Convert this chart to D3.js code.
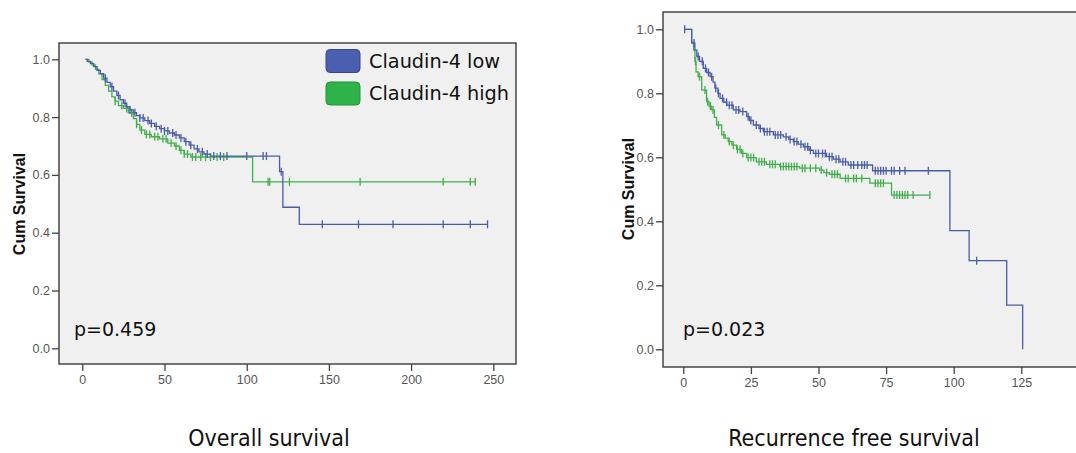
<!DOCTYPE html>
<html>
<head>
<meta charset="utf-8">
<script src="https://cdn.jsdelivr.net/npm/d3@7"></script>
<style>
  body { margin: 0; background: #fff; }
  svg { display: block; }
</style>
</head>
<body>
<div id="chart"></div>
<script>
// ---- data ----
const groups = ["Claudin-4 low", "Claudin-4 high"];

// Overall survival: step times (months) and survival after each step
const osLowTimes = [2, 3, 5, 7, 9, 11, 13, 15, 17, 19, 21, 23, 25, 27, 29, 31, 33, 35, 38, 41, 44, 47, 50, 53, 56, 59, 62, 65, 68, 71, 74, 78, 120, 122, 132];
const osLowSurv  = [1.0, 0.993, 0.985, 0.975, 0.962, 0.95, 0.935, 0.92, 0.905, 0.89, 0.875, 0.86, 0.848, 0.835, 0.825, 0.815, 0.805, 0.797, 0.788, 0.778, 0.768, 0.76, 0.752, 0.745, 0.738, 0.728, 0.715, 0.703, 0.69, 0.68, 0.672, 0.665, 0.611, 0.488, 0.429];
const osLowCensor = [14, 18, 22, 26, 29, 32, 35, 37, 40, 42, 45, 48, 50, 52, 55, 57, 60, 63, 66, 70, 73, 76, 80, 84, 88, 100, 110, 112, 121, 146, 168, 189, 219.5, 236, 246.5];

const osHighTimes = [2, 4, 6, 8, 10, 12, 14, 16, 18, 20, 22, 25, 28, 31, 33, 35, 38, 42, 47, 52, 56, 59, 62, 66, 103.6];
const osHighSurv  = [1.0, 0.99, 0.98, 0.965, 0.95, 0.93, 0.91, 0.89, 0.87, 0.855, 0.84, 0.83, 0.815, 0.795, 0.775, 0.755, 0.74, 0.732, 0.725, 0.71, 0.7, 0.685, 0.672, 0.662, 0.576];
const osHighCensor = [20, 24, 27, 30, 33, 36, 39, 41, 44, 46, 49, 51, 54, 57, 60, 62, 64, 67, 69, 72, 75, 78, 82, 86, 113, 114, 126, 169, 219.5, 236, 239];

// Recurrence free survival
const rfsLowTimes = [0.5, 3.1, 4.3, 5.0, 6.0, 7.4, 8.6, 9.9, 11, 11.7, 12.8, 13.6, 15, 16.1, 18.5, 21, 23.4, 24.5, 25.9, 28, 29.6, 33.3, 37, 39, 40.7, 42.5, 44.4, 46.5, 48.1, 53, 55.5, 58, 61, 70, 98.6, 105.7, 119.6, 125.5];
const rfsLowSurv  = [1.0, 0.957, 0.935, 0.915, 0.9, 0.878, 0.865, 0.852, 0.835, 0.816, 0.8, 0.784, 0.772, 0.763, 0.748, 0.743, 0.727, 0.715, 0.701, 0.69, 0.68, 0.67, 0.664, 0.656, 0.649, 0.641, 0.633, 0.622, 0.612, 0.602, 0.594, 0.586, 0.576, 0.558, 0.371, 0.277, 0.138, 0.0];
const rfsLowCensor = [0.5, 4, 5.5, 7, 8.2, 9.3, 10.5, 12, 13, 14.5, 16, 17, 18, 19.5, 20.5, 22, 24, 25, 27, 28.5, 30, 31, 32, 34, 35, 36, 38, 39.5, 41, 42, 43.5, 45, 46, 47, 49, 50, 51.5, 52.5, 54, 55, 56.5, 57.5, 59, 60, 62, 63, 64.5, 66, 67, 68, 71, 72, 73, 74, 75, 77, 78, 80, 82, 90.6, 108.5];

const rfsHighTimes = [0.5, 3.1, 3.8, 4.3, 4.7, 5.5, 6.8, 8.6, 9.5, 10.5, 11.5, 12.3, 14.2, 15.5, 16.6, 18, 19.7, 21.5, 23.4, 27, 30.7, 35.7, 43, 50.4, 52, 54, 58, 69, 77];
const rfsHighSurv  = [1.0, 0.96, 0.935, 0.9, 0.867, 0.852, 0.81, 0.774, 0.76, 0.748, 0.725, 0.701, 0.67, 0.66, 0.649, 0.638, 0.625, 0.612, 0.599, 0.586, 0.578, 0.571, 0.566, 0.56, 0.552, 0.547, 0.534, 0.519, 0.482];
const rfsHighCensor = [4.5, 6, 8, 9, 10, 11, 13, 15, 17, 18.5, 20, 21, 22, 24, 25, 26, 28, 29, 30, 32, 33, 34, 36, 37, 38, 39, 40, 41, 42, 44, 45, 47, 49, 51, 53, 55, 56, 57, 60, 61, 63, 64, 66, 71, 72, 73, 74, 78, 79, 80, 81, 82, 83, 85, 91.2];

const yTicks = [0, 0.2, 0.4, 0.6, 0.8, 1.0];
const osXTicks = [0, 50, 100, 150, 200, 250];
const rfsXTicks = [0, 25, 50, 75, 100, 125];

const colorLow = "#4a5ca8";
const colorHigh = "#3fb04a";

const svg = d3.select("#chart")
  .append("svg")
  .attr("width", 1076)
  .attr("height", 453);

class KMChart {
  constructor(_cfg) {
    this.cfg = _cfg;
    this.initVis();
  }

  initVis() {
    const vis = this;
    const c = vis.cfg;

    vis.g = svg.append("g");

    vis.x = d3.scaleLinear().domain(c.xDomain).range(c.xRange);
    vis.y = d3.scaleLinear().domain([0, 1]).range(c.yRange);

    // plot panel
    vis.g.append("rect")
      .attr("x", c.frame.left)
      .attr("y", c.frame.top)
      .attr("width", c.frame.right - c.frame.left)
      .attr("height", c.frame.bottom - c.frame.top)
      .attr("fill", "#f0f0f0")
      .attr("stroke", "#3a3a3a")
      .attr("stroke-width", 1.4);

    const yAxis = d3.axisLeft(vis.y)
      .tickValues(yTicks)
      .tickFormat(d3.format(".1f"))
      .tickSize(7)
      .tickPadding(2);

    vis.g.append("g")
      .attr("transform", `translate(${c.frame.left}, 0)`)
      .call(yAxis)
      .call((g) => g.select(".domain").remove());

    const xAxis = d3.axisBottom(vis.x)
      .tickValues(c.xTicks)
      .tickFormat(d3.format("d"))
      .tickSize(7)
      .tickPadding(4);

    vis.g.append("g")
      .attr("transform", `translate(0, ${c.frame.bottom})`)
      .call(xAxis)
      .call((g) => g.select(".domain").remove());

    vis.g.selectAll(".tick text")
      .attr("font-family", "'Liberation Sans', Arial, sans-serif")
      .attr("font-size", "12.5px")
      .attr("fill", "#555");
    vis.g.selectAll(".tick line")
      .attr("stroke", "#444")
      .attr("stroke-width", 1.3);

    // y title
    vis.g.append("text")
      .attr("transform", `translate(${c.yTitleX}, ${c.yTitleY}) rotate(-90)`)
      .attr("text-anchor", "middle")
      .attr("font-family", "'Liberation Sans', Arial, sans-serif")
      .attr("font-weight", "bold")
      .attr("font-size", "16px")
      .attr("fill", "#111")
      .text("Cum Survival");

    // p value
    vis.g.append("text")
      .attr("x", c.pX)
      .attr("y", c.pY)
      .attr("font-family", "'DejaVu Sans', Verdana, sans-serif")
      .attr("font-size", "19px")
      .attr("fill", "#111")
      .text(c.pText);

    // caption
    vis.g.append("text")
      .attr("x", c.titleX)
      .attr("y", 446)
      .attr("text-anchor", "middle")
      .attr("font-family", "'DejaVu Sans Condensed', 'DejaVu Sans', sans-serif")
      .attr("font-stretch", "condensed")
      .attr("font-size", "23px")
      .attr("fill", "#111")
      .text(c.title);

    vis.updateVis();
  }

  updateVis() {
    const vis = this;

    const line = d3.line()
      .x((d) => vis.x(d[0]))
      .y((d) => vis.y(d[1]))
      .curve(d3.curveStepAfter);

    vis.cfg.series.forEach((s) => {
      const pts = s.times.map((t, i) => [t, s.surv[i]]);
      const lastT = Math.max(s.times[s.times.length - 1], d3.max(s.censor));
      pts.push([lastT, s.surv[s.surv.length - 1]]);

      vis.g.append("path")
        .datum(pts)
        .attr("fill", "none")
        .attr("stroke", s.color)
        .attr("stroke-width", 1.3)
        .attr("d", line);

      const survAt = (t) => {
        const i = d3.bisectRight(s.times, t) - 1;
        return s.surv[Math.max(0, i)];
      };

      vis.g.selectAll(null)
        .data(s.censor)
        .enter()
        .append("line")
        .attr("x1", (d) => vis.x(d))
        .attr("x2", (d) => vis.x(d))
        .attr("y1", (d) => vis.y(survAt(d)) - 4)
        .attr("y2", (d) => vis.y(survAt(d)) + 4)
        .attr("stroke", s.color)
        .attr("stroke-width", 1.3);
    });
  }
}

new KMChart({
  xDomain: [0, 250],
  xRange: [82.3, 493.3],
  yRange: [348.3, 59.3],
  frame: { left: 59, top: 43, right: 516, bottom: 364 },
  xTicks: osXTicks,
  yTitleX: 25,
  yTitleY: 204,
  pX: 74,
  pY: 336,
  pText: "p=0.459",
  title: "Overall survival",
  titleX: 269,
  series: [
    { times: osHighTimes, surv: osHighSurv, censor: osHighCensor, color: colorHigh },
    { times: osLowTimes, surv: osLowSurv, censor: osLowCensor, color: colorLow }
  ]
});

new KMChart({
  xDomain: [0, 125],
  xRange: [683.3, 1021.3],
  yRange: [349.3, 29.3],
  frame: { left: 663, top: 12, right: 1082, bottom: 367 },
  xTicks: rfsXTicks,
  yTitleX: 634,
  yTitleY: 189,
  pX: 683,
  pY: 336,
  pText: "p=0.023",
  title: "Recurrence free survival",
  titleX: 854,
  series: [
    { times: rfsHighTimes, surv: rfsHighSurv, censor: rfsHighCensor, color: colorHigh },
    { times: rfsLowTimes, surv: rfsLowSurv, censor: rfsLowCensor, color: colorLow }
  ]
});

// legend (left panel only)
const legend = svg.append("g").attr("transform", "translate(326, 49.5)");
const legendItems = legend.selectAll(".legend")
  .data(groups)
  .enter()
  .append("g")
  .attr("class", "legend")
  .attr("transform", (d, i) => `translate(0, ${i * 32.5})`);

legendItems.append("rect")
  .attr("width", 34)
  .attr("height", 23)
  .attr("rx", 4)
  .attr("fill", (d, i) => (i === 0 ? "#4a5fb0" : "#2eb24a"))
  .attr("stroke", (d, i) => (i === 0 ? "#34478e" : "#23933b"))
  .attr("stroke-width", 1);

legendItems.append("text")
  .attr("x", 43)
  .attr("y", 18)
  .attr("font-family", "'DejaVu Sans', Verdana, sans-serif")
  .attr("font-size", "19.3px")
  .attr("fill", "#111")
  .text((d) => d);
</script>
</body>
</html>
